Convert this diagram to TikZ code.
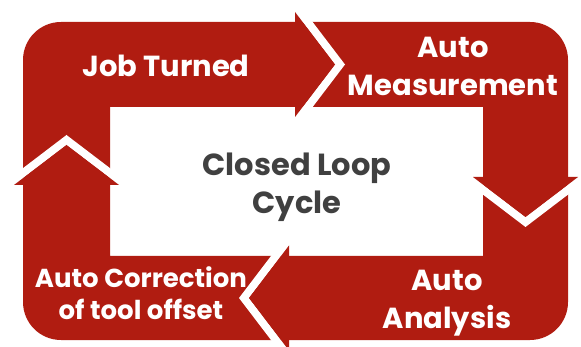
\documentclass[tikz,border=0pt]{standalone}
\usepackage{fontspec}
\setmainfont{Poppins}
\definecolor{loopred}{RGB}{176,28,17}
\definecolor{loopgray}{RGB}{64,64,64}
\begin{document}
\begin{tikzpicture}[x=1pt,y=-1pt,
  lbl/.style={inner sep=0pt, anchor=north, align=center, text=white, font=\bfseries\fontsize{29}{38}\selectfont},
  gapfill/.style={fill=white, draw=none},
  headfill/.style={fill=loopred, draw=none}]
\useasboundingbox (0,0) rectangle (581,347);
% band
\fill[loopred, even odd rule] [rounded corners=38pt] (23,22) rectangle (568,340)
  [sharp corners] (110,107) rectangle (483,256);
% top arrow (rightward)
\fill[gapfill] (295,12) -- (335,64.5) -- (295,117) -- (305,117) -- (345,64.5) -- (305,12) -- cycle;
\fill[headfill] (295,12) -- (335,64.5) -- (295,117) -- cycle;
% right arrow (downward)
\fill[gapfill] (473,177) -- (525.5,217) -- (578,177) -- (578,187) -- (525.5,227) -- (473,187) -- cycle;
\fill[headfill] (473,177) -- (525.5,217) -- (578,177) -- cycle;
% bottom arrow (leftward)
\fill[gapfill] (289,245.5) -- (249,298) -- (289,350.5) -- (279,350.5) -- (239,298) -- (279,245.5) -- cycle;
\fill[headfill] (289,245.5) -- (249,298) -- (289,350.5) -- cycle;
% left arrow (upward)
\fill[gapfill] (14,185) -- (66.5,145) -- (119,185) -- (119,175) -- (66.5,135) -- (14,175) -- cycle;
\fill[headfill] (14,185) -- (66.5,145) -- (119,185) -- cycle;
% labels
\node[lbl] (job) at (166,55) {Job Turned};
\node[lbl] (meas) at (453,37) {Auto\\Measurement};
\node[lbl] (anal) at (447,270) {Auto\\Analysis};
\node[lbl, font=\bfseries\fontsize{26}{32}\selectfont] (corr) at (141,266) {Auto Correction\\of tool offset};
\node[lbl, text=loopgray, font=\bfseries\fontsize{30.5}{38}\selectfont] (cycle) at (297,153) {Closed Loop\\Cycle};
\end{tikzpicture}
\end{document}
